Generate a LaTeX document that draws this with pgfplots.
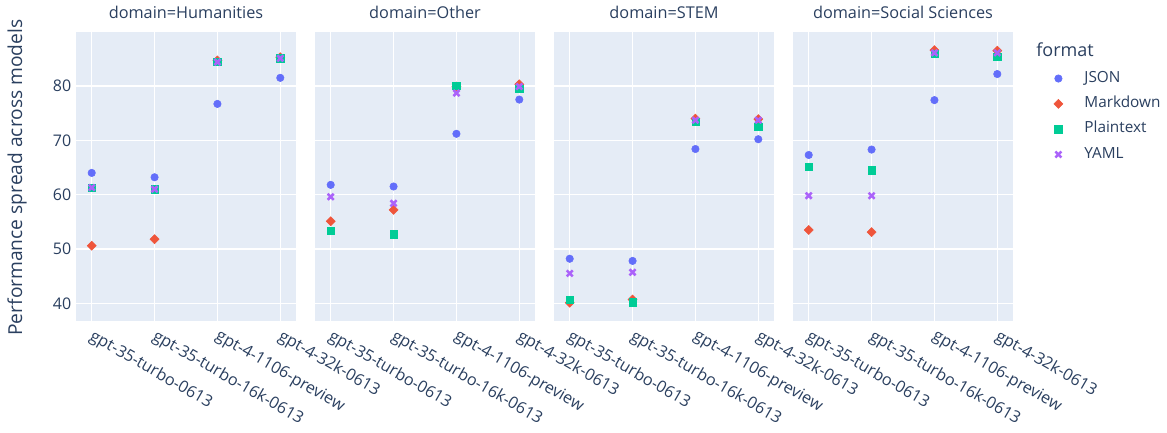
\documentclass[border=0pt]{standalone}
\usepackage{fontspec}
\setmainfont{Open Sans}
\usepackage{pgfplots}
\pgfplotsset{compat=1.18}
\definecolor{bg}{HTML}{E5ECF6}
\definecolor{txt}{HTML}{2A3F5F}
\definecolor{cjson}{HTML}{636EFA}
\definecolor{cmd}{HTML}{EF553B}
\definecolor{cpt}{HTML}{00CC96}
\definecolor{cyaml}{HTML}{AB63FA}
\pgfplotsset{
  panel/.style={
    scale only axis, width=165pt, height=216.75pt,
    anchor=south west,
    xmin=-0.25, xmax=3.25, ymin=36.8, ymax=90,
    axis background/.style={fill=bg},
    axis line style={draw=none},
    major tick length=0pt,
    grid=major, grid style={white, line width=1pt},
    xtick={0,1,2,3},
    xticklabels={gpt-35-turbo-0613, gpt-35-turbo-16k-0613, gpt-4-1106-preview, gpt-4-32k-0613},
    xticklabel style={xshift=2.5pt, yshift=-5.5pt, rotate=-30, anchor=north west, font=\fontsize{12.2}{14}\selectfont, text=txt, inner sep=0pt},
    ytick={40,50,60,70,80},
    yticklabel style={font=\fontsize{12}{14}\selectfont, text=txt},
    /pgf/number format/assume math mode=true,
    title style={at={(0.5,1)}, anchor=base, yshift=3.75pt, font=\fontsize{12.2}{14}\selectfont, text=txt},
    clip mode=individual,
  },
  legimg/.style={legend image code/.code={\draw[##1] plot coordinates {(0pt,0pt)}; \path[draw=none,fill=none] (-4pt,0pt) -- (19.5pt,0pt);}},
  json/.style={only marks, mark=*, mark size=2.8pt, color=cjson, legimg},
  md/.style={only marks, mark=square*, mark size=2.4pt, mark options={rotate=45}, color=cmd, legimg},
  pt/.style={only marks, mark=square*, mark size=2.75pt, color=cpt, legimg},
  ym/.style={only marks, mark=x, mark size=3.2pt, mark options={line width=1.9pt}, color=cyaml, legimg},
}
\begin{document}
\begin{tikzpicture}
\begin{axis}[panel, at={(0pt,0pt)}, title={domain=Humanities},
  ylabel={Performance spread across models},
  ylabel style={at={(rel axis cs:-0.268,0.495)}, anchor=center, rotate=0, font=\fontsize{14.4}{16}\selectfont, text=txt}]
\addplot[json] coordinates {(0,64.0) (1,63.2) (2,76.7) (3,81.5)};
\addplot[md] coordinates {(0,50.6) (1,51.8) (2,84.7) (3,85.3)};
\addplot[pt] coordinates {(0,61.3) (1,61.0) (2,84.4) (3,85.1)};
\addplot[ym] coordinates {(0,61.3) (1,61.0) (2,84.4) (3,85.1)};
\end{axis}
\begin{axis}[panel, at={(179.25pt,0pt)}, title={domain=Other}, yticklabels={}]
\addplot[json] coordinates {(0,61.8) (1,61.5) (2,71.2) (3,77.5)};
\addplot[md] coordinates {(0,55.1) (1,57.2) (2,79.9) (3,80.3)};
\addplot[pt] coordinates {(0,53.4) (1,52.7) (2,80.0) (3,79.5)};
\addplot[ym] coordinates {(0,59.6) (1,58.4) (2,78.7) (3,79.9)};
\end{axis}
\begin{axis}[panel, at={(358.5pt,0pt)}, title={domain=STEM}, yticklabels={}]
\addplot[json] coordinates {(0,48.2) (1,47.8) (2,68.4) (3,70.2)};
\addplot[md] coordinates {(0,40.1) (1,40.7) (2,74.0) (3,73.9)};
\addplot[pt] coordinates {(0,40.6) (1,40.2) (2,73.4) (3,72.5)};
\addplot[ym] coordinates {(0,45.5) (1,45.7) (2,73.7) (3,73.7)};
\end{axis}
\begin{axis}[panel, at={(537.75pt,0pt)}, title={domain=Social Sciences}, yticklabels={},
  legend style={at={(1.181,0.863)}, anchor=north west, draw=none, fill=none, inner sep=0pt,
    font=\fontsize{11.5}{13}\selectfont, text=txt, row sep=8.5pt, column sep=0pt,
    nodes={inner sep=0pt, text height=8pt, text depth=2.5pt}},
  legend cell align=left]
\addplot[json] coordinates {(0,67.3) (1,68.3) (2,77.4) (3,82.2)};
\addplot[md] coordinates {(0,53.5) (1,53.1) (2,86.6) (3,86.5)};
\addplot[pt] coordinates {(0,65.1) (1,64.5) (2,85.9) (3,85.4)};
\addplot[ym] coordinates {(0,59.8) (1,59.8) (2,86.1) (3,86.1)};
\legend{JSON, Markdown, Plaintext, YAML}
\node[anchor=west, inner sep=0pt, font=\fontsize{13.5}{15}\selectfont, text=txt] at (rel axis cs:1.105,0.937) {format};
\end{axis}
\pgfresetboundingbox
\useasboundingbox (-57pt,-84.2pt) rectangle (818.25pt,240.5pt);
\end{tikzpicture}
\end{document}
